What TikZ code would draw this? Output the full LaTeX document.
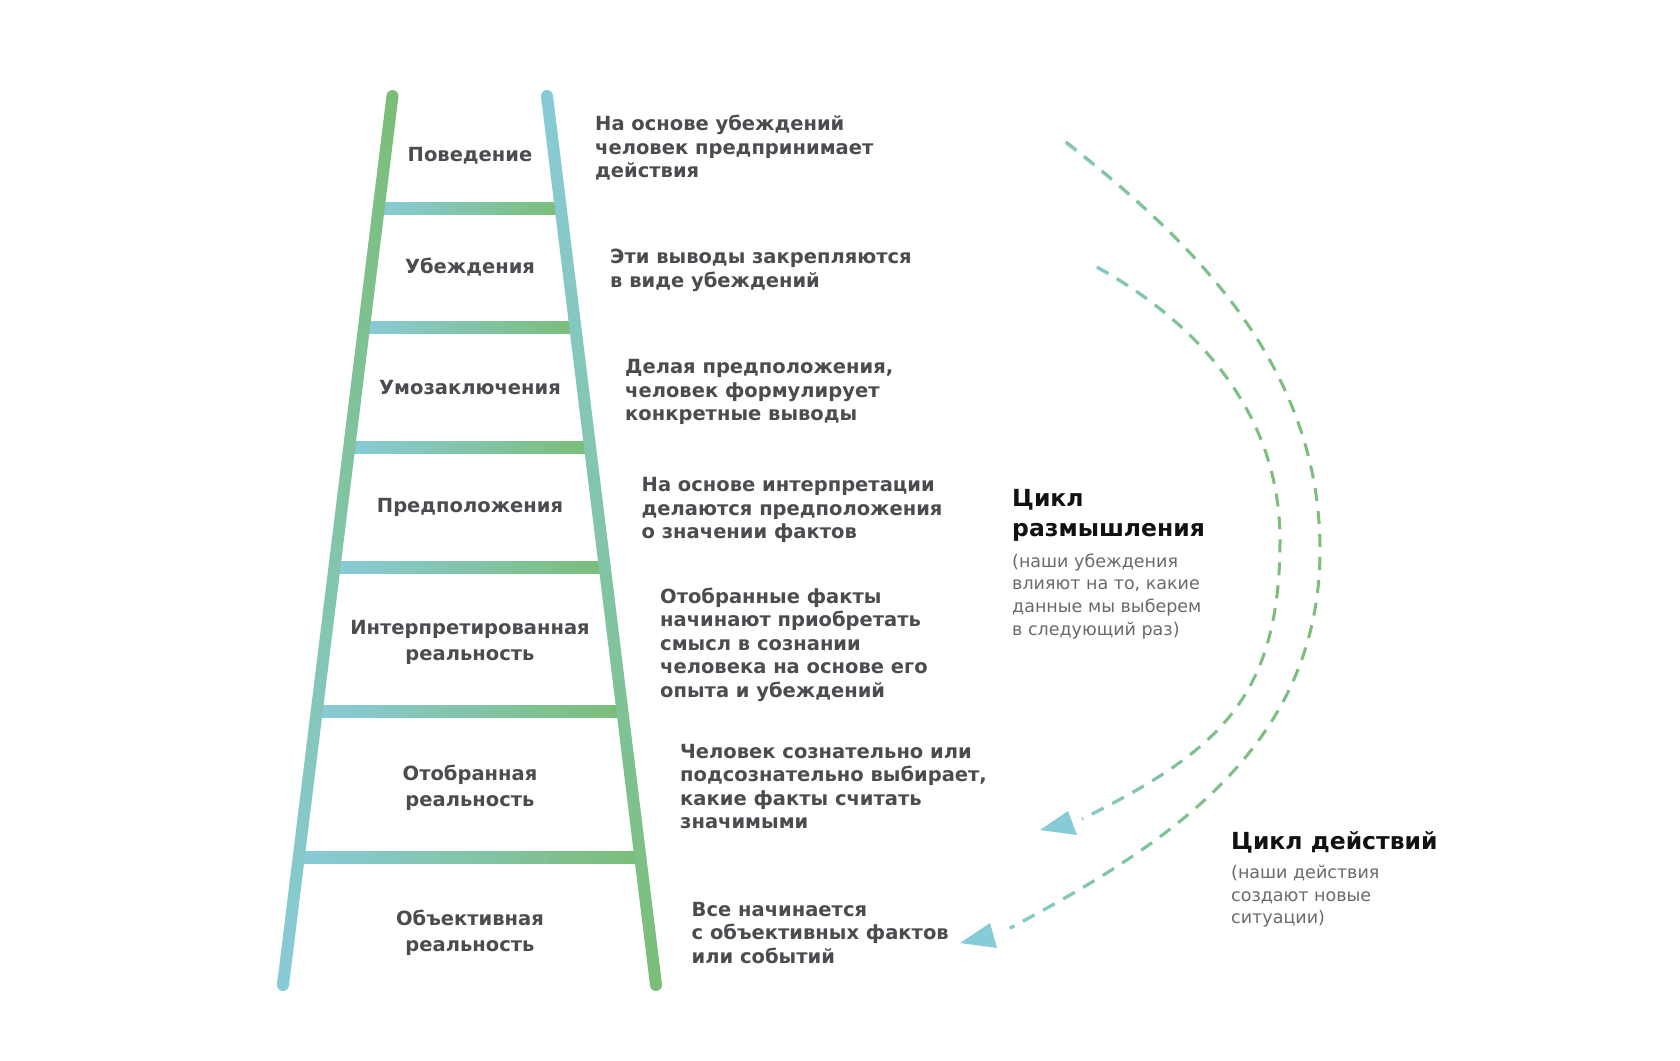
\documentclass[tikz,border=0pt]{standalone}
\usepackage{fontspec}
\setmainfont{DejaVu Sans}
\usetikzlibrary{calc,fadings}
\definecolor{lgreen}{HTML}{7BBE78}
\definecolor{lblue}{HTML}{88CBD8}
\definecolor{txt}{HTML}{4A4C4F}
\definecolor{subtxt}{HTML}{6A6A6A}
\definecolor{ttl}{HTML}{111111}
\tikzfading[name=arcfade, left color=transparent!0, right color=transparent!100, middle color=transparent!70]
\begin{document}
\begin{tikzpicture}[x=1pt,y=-1pt,
  lbl/.style={font=\bfseries\fontsize{19.5}{26.5}\selectfont, text=txt, align=center, anchor=base, inner sep=0pt},
  desc/.style={font=\bfseries\fontsize{19.5}{23.5}\selectfont, text=txt, align=left, anchor=base west, inner sep=0pt},
  ttlstyle/.style={font=\bfseries\fontsize{23.5}{30}\selectfont, text=ttl, align=left, anchor=base west, inner sep=0pt},
  substyle/.style={font=\fontsize{17.5}{22.8}\selectfont, text=subtxt, align=left, anchor=base west, inner sep=0pt},
  cyc/.style={line width=3pt, dash pattern=on 13pt off 10pt},
  tipfill/.style={fill=lblue},
]
\fill[white] (0,0) rectangle (1680,1060);
\useasboundingbox (0,0) rectangle (1680,1060);

% rails
\coordinate (L1) at (392.5,96); \coordinate (L2) at (283,985);
\coordinate (R1) at (547,96);   \coordinate (R2) at (656,985);

% rungs
\foreach \y [count=\i] in {208,327,447,567,711,857}{
  \coordinate (ha\i) at (0,\y); \coordinate (hb\i) at (1000,\y);
  \coordinate (ra\i) at (intersection of L1--L2 and ha\i--hb\i);
  \coordinate (rb\i) at (intersection of R1--R2 and ha\i--hb\i);
  \shade[left color=lblue, right color=lgreen] ($(ra\i)+(0,-6)$) rectangle ($(rb\i)+(0,6)$);
}

\shade[top color=lgreen, bottom color=lblue]
  ($(L1)!6pt!90:(L2)$) -- ($(L2)!6pt!-90:(L1)$) -- ($(L2)!6pt!90:(L1)$) -- ($(L1)!6pt!-90:(L2)$) -- cycle;
\fill[lgreen] (L1) circle (6pt);
\fill[lblue] (L2) circle (6pt);
\shade[top color=lblue, bottom color=lgreen]
  ($(R1)!6pt!90:(R2)$) -- ($(R2)!6pt!-90:(R1)$) -- ($(R2)!6pt!90:(R1)$) -- ($(R1)!6pt!-90:(R2)$) -- cycle;
\fill[lblue] (R1) circle (6pt);
\fill[lgreen] (R2) circle (6pt);

% ladder labels (anchor = baseline of last line)
\node[lbl] (beh) at (470,161) {Поведение};
\node[lbl] (bel) at (470,273.5) {Убеждения};
\node[lbl] (con) at (470,394.5) {Умозаключения};
\node[lbl] (ass) at (470,512.5) {Предположения};
\node[lbl] (int) at (470,660.5) {Интерпретированная\\реальность};
\node[lbl] (sel) at (470,806.5) {Отобранная\\реальность};
\node[lbl] (obj) at (470,951.5) {Объективная\\реальность};

% descriptions
\node[desc] (d1) at (595,177.5) {На основе убеждений\\человек предпринимает\\действия};
\node[desc] (d2) at (610,287) {Эти выводы закрепляются\\в виде убеждений};
\node[desc] (d3) at (625,420.5) {Делая предположения,\\человек формулирует\\конкретные выводы};
\node[desc] (d4) at (641.5,538.5) {На основе интерпретации\\делаются предположения\\о значении фактов};
\node[desc] (d5) at (660,697.3) {Отобранные факты\\начинают приобретать\\смысл в сознании\\человека на основе его\\опыта и убеждений};
\node[desc] (d6) at (680,828.8) {Человек сознательно или\\подсознательно выбирает,\\какие факты считать\\значимыми};
\node[desc] (d7) at (691.5,963) {Все начинается\\с объективных фактов\\или событий};

% cycle titles
\node[ttlstyle] (t1) at (1012,536.5) {Цикл\\размышления};
\node[substyle] (s1) at (1012,635.5) {(наши убеждения\\влияют на то, какие\\данные мы выберем\\в следующий раз)};
\node[ttlstyle] (t2) at (1231,849.3) {Цикл действий};
\node[substyle] (s2) at (1231,923.9) {(наши действия\\создают новые\\ситуации)};

% outer arc (action cycle)
\coordinate (oA) at (1066,142); \coordinate (oR) at (1320,550); \coordinate (oE) at (1010,928);
\coordinate (oT) at (960,943); \coordinate (oB1) at (990,923); \coordinate (oB2) at (997,948);
\draw[cyc, lgreen] (oA) .. controls (1184,235) and (1320,360) .. (oR) .. controls (1320,750) and (1160,848) .. (oE);
\draw[cyc, lblue, path fading=arcfade] (oA) .. controls (1184,235) and (1320,360) .. (oR) .. controls (1320,750) and (1160,848) .. (oE);
\fill[tipfill] (oT) -- (oB1) -- (oB2) -- cycle;

% inner arc (reflection cycle)
\coordinate (iA) at (1097,267); \coordinate (iR) at (1280,540); \coordinate (iE) at (1082,819);
\coordinate (iT) at (1040,830); \coordinate (iB1) at (1068,811); \coordinate (iB2) at (1077,835);
\draw[cyc, lgreen] (iA) .. controls (1193,320) and (1280,410) .. (iR) .. controls (1280,700) and (1216,752) .. (iE);
\draw[cyc, lblue, path fading=arcfade] (iA) .. controls (1193,320) and (1280,410) .. (iR) .. controls (1280,700) and (1216,752) .. (iE);
\fill[tipfill] (iT) -- (iB1) -- (iB2) -- cycle;
\end{tikzpicture}
\end{document}
